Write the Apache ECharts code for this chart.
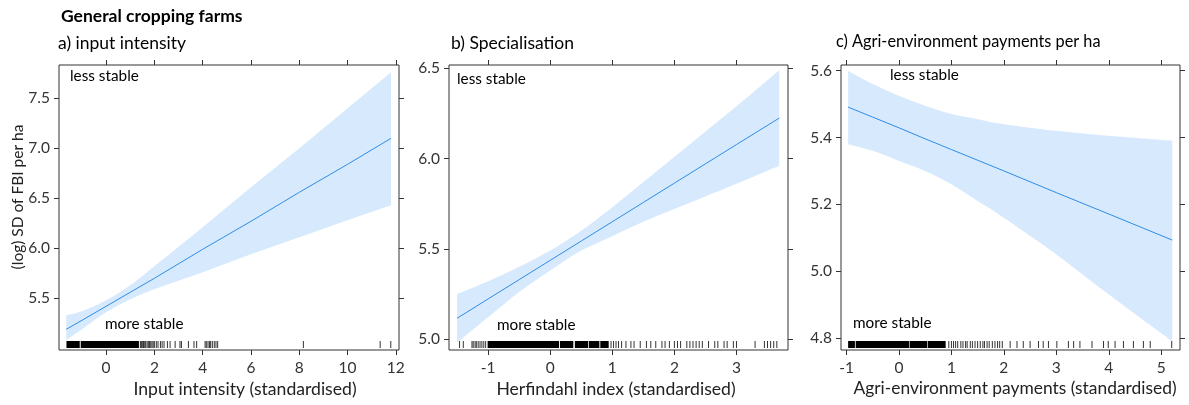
<!DOCTYPE html>
<html><head><meta charset="utf-8">
<script src="https://cdn.jsdelivr.net/npm/echarts@6/dist/echarts.min.js"></script>
<style>html,body{margin:0;padding:0;background:#fff}#c{width:1189px;height:405px}</style>
</head><body><div id="c"></div>
<script>
// ---------- data ----------
const P1_x   = [-1.65, -1, 0, 1, 2, 4, 6, 8, 10, 11.8];
const P1_fit = [5.19, 5.28, 5.42, 5.56, 5.70, 5.99, 6.27, 6.56, 6.84, 7.10];
const P1_lo  = [5.08, 5.19, 5.36, 5.49, 5.59, 5.76, 5.94, 6.11, 6.28, 6.43];
const P1_hi  = [5.33, 5.37, 5.48, 5.63, 5.82, 6.21, 6.61, 7.00, 7.40, 7.76];
const P1_rugBlocks = [[-1.62, -1.07], [-1.03, 1.38]];
const P1_rug = [1.42,1.46,1.5,1.55,1.6,1.64,1.7,1.75,1.8,1.85,1.9,1.95,2.0,2.08,2.15,2.25,2.32,2.4,2.54,2.65,2.86,3.06,3.12,3.41,3.64,3.75,4.1,4.15,4.22,4.28,4.33,4.4,4.48,4.55,4.62,8.17,11.35,11.79];

const P2_x   = [-1.5, -1, -0.5, 0, 0.5, 1, 1.5, 2, 2.5, 3, 3.69];
const P2_fit = [5.115, 5.222, 5.329, 5.436, 5.543, 5.650, 5.757, 5.864, 5.971, 6.078, 6.225];
const P2_lo  = [4.98, 5.12, 5.26, 5.38, 5.49, 5.57, 5.65, 5.72, 5.79, 5.86, 5.96];
const P2_hi  = [5.25, 5.32, 5.40, 5.49, 5.60, 5.73, 5.87, 6.01, 6.15, 6.29, 6.49];
const P2_rugBlocks = [[-1.0, 0.15], [0.165, 0.38], [0.405, 0.62], [0.632, 0.8], [0.815, 0.95]];
const P2_rug = [-1.46,-1.40,-1.26,-1.24,-1.21,-1.19,-1.16,-1.13,-1.1,-1.07,-1.04,0.98,1.02,1.06,1.1,1.15,1.22,1.3,1.35,1.45,1.55,1.62,1.7,1.8,1.85,1.92,2.0,2.05,2.1,2.2,2.25,2.3,2.35,2.4,2.45,2.55,2.65,2.7,2.8,2.85,2.95,3.0,3.3,3.45,3.5,3.55,3.6,3.65];

const P3_x   = [-0.97, -0.5, 0, 0.5, 1, 1.5, 2, 3, 4, 5.21];
const P3_fit = [5.491, 5.461, 5.429, 5.396, 5.364, 5.332, 5.300, 5.235, 5.171, 5.093];
const P3_lo  = [5.38, 5.36, 5.33, 5.30, 5.26, 5.21, 5.16, 5.05, 4.93, 4.79];
const P3_hi  = [5.60, 5.56, 5.525, 5.495, 5.47, 5.455, 5.44, 5.42, 5.405, 5.39];
const P3_rugBlocks = [[-0.96, -0.83], [-0.815, 0.2], [0.212, 0.55], [0.562, 0.9]];
const P3_rug = [0.95,1.0,1.04,1.08,1.12,1.18,1.22,1.27,1.3,1.36,1.4,1.45,1.5,1.55,1.6,1.63,1.68,1.72,1.78,1.83,1.88,1.92,1.97,2.12,2.25,2.37,2.5,2.66,2.75,2.85,3.01,3.23,3.33,3.45,3.68,3.9,3.99,4.12,4.28,4.47,4.66,4.79,5.2];

const X1_ticks = [0, 2, 4, 6, 8, 10, 12];
const Y1_ticks = [5.5, 6.0, 6.5, 7.0, 7.5];
const X2_ticks = [-1, 0, 1, 2, 3];
const Y2_ticks = [5.0, 5.5, 6.0, 6.5];
const X3_ticks = [-1, 0, 1, 2, 3, 4, 5];
const Y3_ticks = [4.8, 5.0, 5.2, 5.4, 5.6];

const titles = {
  main: 'General cropping farms',
  panels: ['a) input intensity', 'b) Specialisation', 'c) Agri-environment payments per ha'],
  xlabs: ['Input intensity (standardised)', 'Herfindahl index (standardised)', 'Agri-environment payments (standardised)'],
  ylab: '(log) SD of FBI per ha',
  less: 'less stable', more: 'more stable'
};

// ---------- chart ----------
const FONT = 'Lato, "Open Sans", sans-serif';
const AX = '#333';
const BAND = '#d7eafd';
const LINE = '#2f8ce6';

// smooth (Catmull-Rom) path through pixel points, continuing an existing path
function smoothSeg(pts) {
  let d = '';
  for (let k = 0; k < pts.length - 1; k++) {
    const p0 = pts[Math.max(0, k - 1)], p1 = pts[k], p2 = pts[k + 1], p3 = pts[Math.min(pts.length - 1, k + 2)];
    const c1 = [p1[0] + (p2[0] - p0[0]) / 6, p1[1] + (p2[1] - p0[1]) / 6];
    const c2 = [p2[0] - (p3[0] - p1[0]) / 6, p2[1] - (p3[1] - p1[1]) / 6];
    d += 'C' + c1[0] + ' ' + c1[1] + ' ' + c2[0] + ' ' + c2[1] + ' ' + p2[0] + ' ' + p2[1];
  }
  return d;
}

const panels = [
  {grid:{left:59, top:65, width:340, height:285}, xr:[-1.95, 12.13], yr:[4.983, 7.833], xt:X1_ticks, yt:Y1_ticks,
   x:P1_x, fit:P1_fit, lo:P1_lo, hi:P1_hi, blocks:P1_rugBlocks, rug:P1_rug},
  {grid:{left:449, top:65, width:339, height:285}, xr:[-1.63, 3.83], yr:[4.939, 6.519], xt:X2_ticks, yt:Y2_ticks,
   x:P2_x, fit:P2_fit, lo:P2_lo, hi:P2_hi, blocks:P2_rugBlocks, rug:P2_rug},
  {grid:{left:841, top:65, width:339, height:285}, xr:[-1.105, 5.358], yr:[4.764, 5.617], xt:X3_ticks, yt:Y3_ticks,
   x:P3_x, fit:P3_fit, lo:P3_lo, hi:P3_hi, blocks:P3_rugBlocks, rug:P3_rug}
];

const grid = [], xAxis = [], yAxis = [], series = [];
panels.forEach((p, i) => {
  grid.push(Object.assign({show:true, borderColor:AX, borderWidth:1, backgroundColor:'transparent'}, p.grid));
  const tick = {show:true, inside:false, length:5, lineStyle:{color:AX, width:1}};
  const lab = {fontFamily:FONT, fontSize:15.5, color:'#333'};
  const line = {show:false, onZero:false};
  xAxis.push({type:'value', gridIndex:i, min:p.xr[0], max:p.xr[1], position:'bottom',
    axisLine:line, splitLine:{show:false},
    axisTick:Object.assign({customValues:p.xt}, tick),
    axisLabel:Object.assign({customValues:p.xt, margin:10}, lab)});
  xAxis.push({type:'value', gridIndex:i, min:p.xr[0], max:p.xr[1], position:'top',
    axisLine:line, splitLine:{show:false},
    axisTick:Object.assign({customValues:p.xt}, tick), axisLabel:{show:false}});
  yAxis.push({type:'value', gridIndex:i, min:p.yr[0], max:p.yr[1], position:'left',
    axisLine:line, splitLine:{show:false},
    axisTick:Object.assign({customValues:p.yt}, tick),
    axisLabel:Object.assign({customValues:p.yt, margin:9, formatter:v => v.toFixed(1)}, lab)});
  yAxis.push({type:'value', gridIndex:i, min:p.yr[0], max:p.yr[1], position:'right',
    axisLine:line, splitLine:{show:false},
    axisTick:Object.assign({customValues:p.yt}, tick), axisLabel:{show:false}});

  const xi = i * 2, yi = i * 2;
  // confidence band (smoothed edges)
  series.push({type:'custom', xAxisIndex:xi, yAxisIndex:yi, silent:true, z:1,
    data:[[p.x[0], p.fit[0]]],
    renderItem:(params, api) => {
      const hi = p.x.map((v, k) => api.coord([v, p.hi[k]]));
      const lo = p.x.map((v, k) => api.coord([v, p.lo[k]])).reverse();
      const d = 'M' + hi[0][0] + ' ' + hi[0][1] + smoothSeg(hi) +
                'L' + lo[0][0] + ' ' + lo[0][1] + smoothSeg(lo) + 'Z';
      return {type:'path', shape:{pathData:d}, style:{fill:BAND}};
    }});
  // fitted line
  series.push({type:'line', xAxisIndex:xi, yAxisIndex:yi, silent:true, z:3,
    data:p.x.map((v, k) => [v, p.fit[k]]), symbol:'none',
    lineStyle:{color:LINE, width:1}});
  // rug
  const rugData = p.blocks.map(b => [b[0], b[1]]).concat(p.rug.map(v => [v, v]));
  series.push({type:'custom', xAxisIndex:xi, yAxisIndex:yi, silent:true, z:4,
    data:rugData,
    renderItem:(params, api) => {
      const a = api.coord([api.value(0), p.yr[0]]);
      const b = api.coord([api.value(1), p.yr[0]]);
      const w = Math.max(1, b[0] - a[0]);
      return {type:'rect', shape:{x:a[0] - 0.5, y:a[1] - 9, width:w, height:7},
        style:{fill: api.value(1) > api.value(0) ? '#000' : 'rgba(0,0,0,0.8)'}};
    }});
});

const T = (text, x, y, opts) => ({type:'text', x, y, style:Object.assign({text, fontFamily:FONT, fontSize:15, fill:'#000'}, opts || {})});

const graphic = [
  T(titles.main, 61, 7, {fontWeight:'bold', fontSize:17.5}),
  T(titles.panels[0], 58, 34, {fontSize:17.5}),
  T(titles.panels[1], 451, 34, {fontSize:17.5}),
  T(titles.panels[2], 836, 34, {fontSize:16.3}),
  T(titles.xlabs[0], 245, 380, {fontSize:17.6, textAlign:'center', fill:'#222'}),
  T(titles.xlabs[1], 616, 380, {fontSize:17.6, textAlign:'center', fill:'#222'}),
  T(titles.xlabs[2], 1015, 380, {fontSize:17.4, textAlign:'center', fill:'#222'}),
  {type:'text', x:18, y:197, rotation:Math.PI/2, style:{text:titles.ylab, fontFamily:FONT, fontSize:15.5, fill:'#222', textAlign:'center', textVerticalAlign:'middle'}},
  T(titles.less, 70, 69, {fontSize:15.3}),
  T(titles.more, 105, 317, {fontSize:15.3}),
  T(titles.less, 457, 72, {fontSize:15.3}),
  T(titles.more, 497, 318, {fontSize:15.3}),
  T(titles.less, 890, 68, {fontSize:15.3}),
  T(titles.more, 853, 316, {fontSize:15.3})
];

const chart = echarts.init(document.getElementById('c'), null, {renderer:'canvas'});
chart.setOption({animation:false, grid, xAxis, yAxis, series, graphic});
</script></body></html>
